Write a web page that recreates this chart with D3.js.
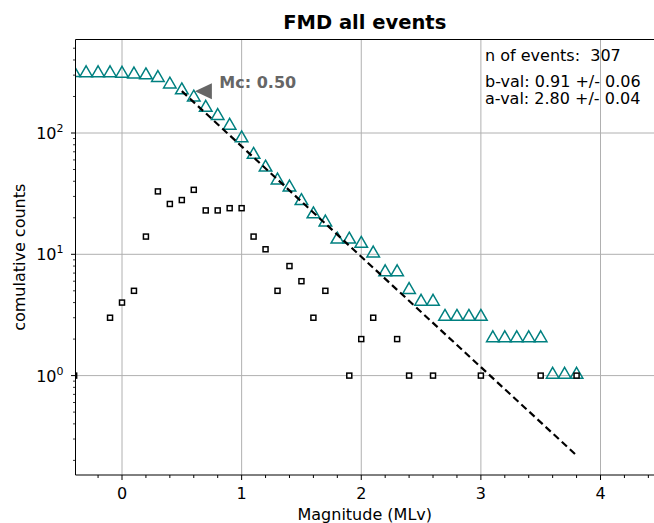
<!DOCTYPE html>
<html>
<head>
<meta charset="utf-8">
<script src="https://cdn.jsdelivr.net/npm/d3@7"></script>
<style>
  body { margin: 0; background: #fff; }
  svg { font-family: "DejaVu Sans", sans-serif; }
  text { white-space: pre; }
</style>
</head>
<body>
<div id="chart"></div>
<script>
// magnitude bins (MLv) and counts per bin
const mags = [-0.4, -0.3, -0.2, -0.1, 0.0, 0.1, 0.2, 0.3, 0.4, 0.5, 0.6, 0.7, 0.8, 0.9, 1.0,
  1.1, 1.2, 1.3, 1.4, 1.5, 1.6, 1.7, 1.8, 1.9, 2.0, 2.1, 2.2, 2.3, 2.4, 2.5, 2.6, 2.7, 2.8,
  2.9, 3.0, 3.1, 3.2, 3.3, 3.4, 3.5, 3.6, 3.7, 3.8];
const counts = [1, 0, 0, 3, 4, 5, 14, 33, 26, 28, 34, 23, 23, 24, 24,
  14, 11, 5, 8, 6, 3, 5, 0, 1, 2, 3, 0, 2, 1, 0, 1, 0, 0,
  0, 1, 0, 0, 0, 0, 1, 0, 0, 1];
const cumulative = [307, 306, 306, 306, 303, 299, 294, 280, 247, 221, 193, 159, 136, 113, 89,
  65, 51, 40, 35, 27, 21, 18, 13, 13, 12, 10, 7, 7, 5, 4, 4, 3, 3,
  3, 3, 2, 2, 2, 2, 2, 1, 1, 1];

const Mc = 0.50, bVal = 0.91, aVal = 2.80;
const bErr = 0.06, aErr = 0.04, nEvents = 307;
const mcCount = 221;
const xTicks = [0, 1, 2, 3, 4];
const yTicks = [1, 10, 100];

const width = 654, height = 523;
const x = d3.scaleLinear().domain([0, 4]).range([122, 600.5]);
const y = d3.scaleLog().domain([1, 100]).range([375.6, 133]);
const pLeft = 75.5, pRight = 700, pTop = 39.5, pBottom = 475;

const svg = d3.select("#chart").append("svg")
  .attr("width", width).attr("height", height);

svg.append("clipPath").attr("id", "clip")
  .append("rect").attr("x", pLeft).attr("y", pTop)
  .attr("width", pRight - pLeft).attr("height", pBottom - pTop);

// grid
svg.append("g").selectAll("line").data(xTicks).join("line")
  .attr("x1", d => x(d)).attr("x2", d => x(d))
  .attr("y1", pTop).attr("y2", pBottom)
  .attr("stroke", "#b0b0b0").attr("stroke-width", 1);
svg.append("g").selectAll("line").data(yTicks).join("line")
  .attr("x1", pLeft).attr("x2", pRight)
  .attr("y1", d => y(d)).attr("y2", d => y(d))
  .attr("stroke", "#b0b0b0").attr("stroke-width", 1);

const plot = svg.append("g").attr("clip-path", "url(#clip)");

// cumulative counts (open triangles)
const tri = d3.symbol().type(d3.symbolTriangle).size(68);
plot.append("g").selectAll("path").data(mags.map((m, i) => [m, cumulative[i]]).filter(d => d[1] > 0))
  .join("path")
  .attr("d", tri)
  .attr("transform", d => `translate(${x(d[0])},${y(d[1]) - 1})`)
  .attr("fill", "none").attr("stroke", "#008080").attr("stroke-width", 1.5);

// fit line log10 N = a - b M
const fitMs = mags.filter(m => m >= Mc - 1e-9);
const line = d3.line().x(m => x(m)).y(m => y(Math.pow(10, aVal - bVal * m)));
plot.append("path").datum([fitMs[0], fitMs[fitMs.length - 1]])
  .attr("d", line).attr("fill", "none")
  .attr("stroke", "#000").attr("stroke-width", 2.2)
  .attr("stroke-dasharray", "7,4");

// non-cumulative counts (small squares)
plot.append("g").selectAll("rect").data(mags.map((m, i) => [m, counts[i]]).filter(d => d[1] > 0))
  .join("rect")
  .attr("x", d => x(d[0]) - 2.5).attr("y", d => y(d[1]) - 2.5)
  .attr("width", 5).attr("height", 5)
  .attr("fill", "#fff").attr("stroke", "#000").attr("stroke-width", 1.5);

// Mc marker
const mcX = x(Mc + 0.18), mcY = y(mcCount);
svg.append("path")
  .attr("d", `M${mcX - 8.5},${mcY} L${mcX + 8.5},${mcY - 8} L${mcX + 8.5},${mcY + 8} Z`)
  .attr("fill", "#666");
svg.append("text").attr("x", mcX + 16).attr("y", mcY - 3)
  .attr("font-size", 16).attr("font-weight", "bold").attr("fill", "#666")
  .text(`Mc: ${Mc.toFixed(2)}`);

// axes spines
svg.append("line").attr("x1", pLeft).attr("x2", pLeft).attr("y1", pTop).attr("y2", pBottom).attr("stroke", "#000").attr("stroke-width", 1);
svg.append("line").attr("x1", pLeft).attr("x2", pRight).attr("y1", pBottom).attr("y2", pBottom).attr("stroke", "#000").attr("stroke-width", 1);
svg.append("line").attr("x1", pLeft).attr("x2", pRight).attr("y1", pTop).attr("y2", pTop).attr("stroke", "#000").attr("stroke-width", 1);

// x ticks
const xMinor = d3.range(-2, 23).map(i => i * 0.2).filter(v => x(v) >= pLeft - 0.5 && x(v) <= width);
svg.append("g").selectAll("line").data(xMinor).join("line")
  .attr("x1", d => x(d)).attr("x2", d => x(d))
  .attr("y1", pBottom).attr("y2", d => Math.abs(d - Math.round(d)) < 1e-6 ? pBottom + 5 : pBottom + 3)
  .attr("stroke", "#000").attr("stroke-width", 1);
svg.append("g").selectAll("text").data(xTicks).join("text")
  .attr("x", d => x(d)).attr("y", 499)
  .attr("text-anchor", "middle").attr("font-size", 16).text(d => d);

// y ticks
const yMinor = [];
[0.1, 1, 10, 100].forEach(dec => { for (let k = 2; k <= 9; k++) yMinor.push(dec * k); });
svg.append("g").selectAll("line").data(yMinor.filter(v => y(v) >= pTop && y(v) <= pBottom)).join("line")
  .attr("x1", pLeft - 2.5).attr("x2", pLeft).attr("y1", d => y(d)).attr("y2", d => y(d))
  .attr("stroke", "#000").attr("stroke-width", 0.8);
svg.append("g").selectAll("line").data(yTicks).join("line")
  .attr("x1", pLeft - 4.5).attr("x2", pLeft).attr("y1", d => y(d)).attr("y2", d => y(d))
  .attr("stroke", "#000").attr("stroke-width", 1);
const yl = svg.append("g").selectAll("text").data(yTicks).join("text")
  .attr("x", pLeft - 12).attr("y", d => y(d) + 6)
  .attr("text-anchor", "end").attr("font-size", 16);
yl.append("tspan").text("10");
yl.append("tspan").attr("font-size", 11).attr("dy", -7).text(d => Math.round(Math.log10(d)));

// labels
svg.append("text").attr("x", (pLeft + width) / 2).attr("y", 29)
  .attr("text-anchor", "middle").attr("font-size", 19.5).attr("font-weight", "bold")
  .text("FMD all events");
svg.append("text").attr("x", (pLeft + width) / 2).attr("y", 520)
  .attr("text-anchor", "middle").attr("font-size", 16).text("Magnitude (MLv)");
svg.append("text").attr("transform", `translate(25,${(pTop + pBottom) / 2}) rotate(-90)`)
  .attr("text-anchor", "middle").attr("font-size", 16).text("comulative counts");

// stats box
const stats = [`n of events:  ${nEvents}`,
  `b-val: ${bVal.toFixed(2)} +/- ${bErr.toFixed(2)}`,
  `a-val: ${aVal.toFixed(2)} +/- ${aErr.toFixed(2)}`];
svg.append("g").selectAll("text").data(stats).join("text")
  .attr("x", 485).attr("y", (d, i) => [61, 87, 104][i])
  .attr("font-size", 16).text(d => d);
</script>
</body>
</html>
